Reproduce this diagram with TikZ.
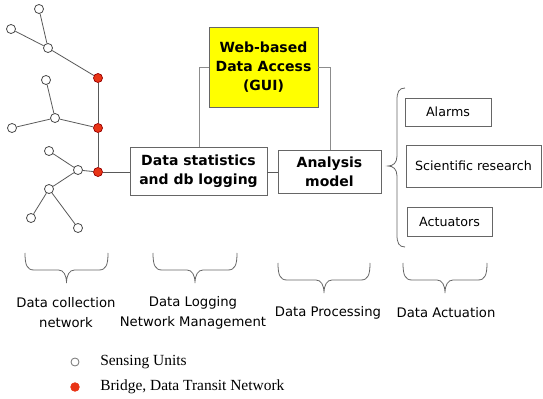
\documentclass[tikz,border=0pt]{standalone}
\usepackage{fontspec}
\setmainfont{Liberation Serif}
\newfontfamily\boxfont{DejaVu Sans}
\begin{document}
\begin{tikzpicture}[x=0.75pt,y=-0.75pt,
  sensor/.style={circle,draw=black!70,fill=white,line width=0.6pt,inner sep=0pt,minimum size=6.8pt},
  bridge/.style={circle,draw=red!60!black,fill=bridgered,line width=0.5pt,inner sep=0pt,minimum size=6.8pt},
  link/.style={draw=black!65,line width=0.6pt},
  glink/.style={draw=black!45,line width=0.7pt},
  boldbox/.style={draw=black!60,line width=0.7pt,fill=white,align=center,inner sep=0pt,
     font=\boxfont\bfseries\fontsize{10.5}{14.25}\selectfont},
  plainbox/.style={draw=black!60,line width=0.6pt,fill=white,align=center,inner sep=0pt,
     font=\boxfont\fontsize{9.5}{12}\selectfont},
  lbl/.style={align=center,inner sep=0pt,font=\boxfont\fontsize{9.9}{15}\selectfont},
  leg/.style={anchor=west,inner sep=0pt,font=\fontsize{11.6}{13}\selectfont},
  brc/.style={draw=black!60,line width=0.6pt}
]
\definecolor{bridgered}{RGB}{232,52,22}
\definecolor{gyellow}{RGB}{255,255,0}
\useasboundingbox (0,0) rectangle (543,399);

% sensing network
\node[sensor] (s1) at (39,9) {};
\node[sensor] (s2) at (11,29) {};
\node[sensor] (s3) at (48,48) {};
\node[bridge] (b1) at (98,78) {};
\node[sensor] (s4) at (46,80) {};
\node[sensor] (s5) at (55,118) {};
\node[sensor] (s6) at (12,128) {};
\node[bridge] (b2) at (98,128) {};
\node[sensor] (s7) at (49,151) {};
\node[sensor] (s8) at (78,170) {};
\node[bridge] (b3) at (98,172) {};
\node[sensor] (s9) at (49,189) {};
\node[sensor] (s10) at (31,218) {};
\node[sensor] (s11) at (78,228) {};

% main boxes
\node[boldbox,fill=gyellow,minimum width=81.75pt,minimum height=60pt] (web) at (263.5,67)
  {Web-based\\Data Access\\(GUI)};
\node[boldbox,minimum width=102.75pt,minimum height=36pt] (stat) at (198.5,171)
  {Data statistics\\and db logging};
\node[boldbox,minimum width=77.25pt,minimum height=32.25pt] (ana) at (329.5,171.5)
  {Analysis\\model};

\node[plainbox,minimum width=64.5pt,minimum height=21pt] (alarm) at (448,112) {Alarms};
\node[plainbox,minimum width=101.25pt,minimum height=31.5pt] (sci) at (473.5,166) {Scientific research};
\node[plainbox,minimum width=63.75pt,minimum height=21.75pt] (act) at (449.5,221.5) {Actuators};

% links
\draw[link] (s1) -- (s3);
\draw[link] (s2) -- (s3);
\draw[link] (s3) -- (b1);
\draw[link] (b1) -- (b2);
\draw[link] (b2) -- (b3);
\draw[link] (s4) -- (s5);
\draw[link] (s6) -- (s5);
\draw[link] (s5) -- (b2);
\draw[link] (s7) -- (s8);
\draw[link] (s8) -- (b3);
\draw[link] (s8) -- (s9);
\draw[link] (s9) -- (s10);
\draw[link] (s9) -- (s11);
\draw[link] (b3) -- (stat.west |- b3);
\draw[link] (stat.east |- 0,172) -- (ana.west |- 0,172);
\draw[glink] (web.west) -| (stat.north -| 199,0);
\draw[glink] (web.east) -| (ana.north -| 330,0);

% right vertical brace
\draw[brc] (405,88) .. controls (399,88) and (397,92) .. (397,100)
  -- (397,156) .. controls (397,163) and (393,166) .. (388,166)
  .. controls (393,166) and (397,169) .. (397,176)
  -- (397,235) .. controls (397,243) and (399,247) .. (405,247);

% bottom braces
\foreach \xl/\xr/\yt in {25/108/253, 153/237/253, 278/370/263, 403/487/263}{
  \pgfmathsetmacro\xc{(\xl+\xr)/2}
  \draw[brc] (\xl,\yt) .. controls (\xl,\yt+12) and (\xl+2,\yt+17) .. (\xl+9,\yt+17)
    -- (\xc-8,\yt+17) .. controls (\xc-3,\yt+17) and (\xc,\yt+22) .. (\xc,\yt+30)
    .. controls (\xc,\yt+22) and (\xc+3,\yt+17) .. (\xc+8,\yt+17)
    -- (\xr-9,\yt+17) .. controls (\xr-2,\yt+17) and (\xr,\yt+12) .. (\xr,\yt);
}

% bottom labels
\node[lbl] (l1) at (66,313) {Data collection\\network};
\node[lbl] (l2) at (193,313) {Data Logging\\Network Management};
\node[lbl] (l3) at (328,313) {Data Processing};
\node[lbl] (l4) at (446,313) {Data Actuation};

% legend
\node[sensor,draw=black!55,minimum size=6pt] (k1) at (75,362) {};
\node[bridge,draw=bridgered,minimum size=6.5pt] (k2) at (75,387) {};
\node[leg] (t1) at (100,362) {Sensing Units};
\node[leg] (t2) at (100,387) {Bridge, Data Transit Network};
\end{tikzpicture}
\end{document}
